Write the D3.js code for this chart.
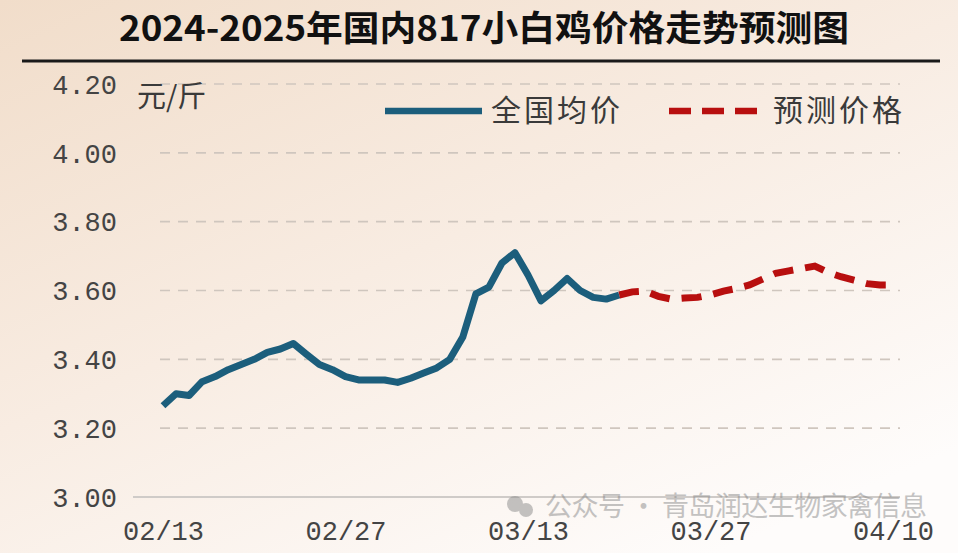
<!DOCTYPE html>
<html><head><meta charset="utf-8">
<script src="https://cdn.jsdelivr.net/npm/d3@7/dist/d3.min.js"></script>
<style>html,body{margin:0;padding:0;overflow:hidden;background:#fbf3ec}</style>
</head><body><svg id="c" width="958" height="553"></svg>
<script>
const dates = ["02/13","02/14","02/15","02/16","02/17","02/18","02/19","02/20","02/21","02/22","02/23","02/24","02/25","02/26","02/27","02/28",
"03/01","03/02","03/03","03/04","03/05","03/06","03/07","03/08","03/09","03/10","03/11","03/12","03/13","03/14","03/15","03/16","03/17","03/18","03/19","03/20",
"03/21","03/22","03/23","03/24","03/25","03/26","03/27","03/28","03/29","03/30","03/31","04/01","04/02","04/03","04/04","04/05","04/06","04/07","04/08","04/09","04/10"];
const actualDates = dates.slice(0, 36);
const actualValues = [3.265,3.300,3.295,3.335,3.350,3.370,3.385,3.400,3.420,3.430,3.446,3.415,3.385,3.370,3.350,3.340,
3.340,3.340,3.333,3.345,3.360,3.375,3.400,3.465,3.590,3.610,3.680,3.710,3.645,3.570,3.600,3.635,3.600,3.580,3.575,3.587];
const forecastDates = dates.slice(35);
const forecastValues = [3.587,3.596,3.598,3.583,3.575,3.578,3.580,3.587,3.598,3.606,3.616,3.633,3.650,3.657,3.664,3.671,3.653,3.640,3.630,3.620,3.616,3.616];
const yTicks = [3.00,3.20,3.40,3.60,3.80,4.00,4.20];
const xTicks = ["02/13","02/27","03/13","03/27","04/10"];
const title = "2024-2025年国内817小白鸡价格走势预测图";
const unit = "元/斤";
const seriesNames = ["全国均价","预测价格"];
const watermark = "公众号 · 青岛润达生物家禽信息";

const svg = d3.select("#c");
const defs = svg.append("defs");
const g = defs.append("linearGradient").attr("id","bg").attr("x1","0").attr("y1","0").attr("x2","0.75").attr("y2","1");
g.append("stop").attr("offset","0").attr("stop-color","#f1ddca");
g.append("stop").attr("offset","0.5").attr("stop-color","#f8ece2");
g.append("stop").attr("offset","1").attr("stop-color","#fefcfb");
svg.append("rect").attr("width",958).attr("height",553).attr("fill","url(#bg)");

const x = d3.scalePoint().domain(dates).range([163, 893]);
const y = d3.scaleLinear().domain([3.0, 4.2]).range([497, 84]);

// title
svg.append("text").attr("x",484).attr("y",41).attr("text-anchor","middle")
  .attr("font-family","'Noto Sans CJK SC'").attr("font-weight","bold").attr("font-size",35)
  .attr("textLength",730).attr("lengthAdjust","spacingAndGlyphs")
  .attr("fill","#111").text(title);
svg.append("line").attr("x1",22).attr("x2",940).attr("y1",61).attr("y2",61).attr("stroke","#1a1a1a").attr("stroke-width",3);

// grid
svg.append("g").selectAll("line").data(yTicks.filter(d=>d>3)).join("line")
  .attr("x1",160).attr("x2",900).attr("y1",d=>y(d)).attr("y2",d=>y(d))
  .attr("stroke","#cfc6be").attr("stroke-width",1.6).attr("stroke-dasharray","10,8");
svg.append("line").attr("x1",133).attr("x2",900).attr("y1",y(3)).attr("y2",y(3))
  .attr("stroke","#cfcbc8").attr("stroke-width",2);

// axes
const yAxis = svg.append("g").attr("transform","translate(160,0)")
  .call(d3.axisLeft(y).tickValues(yTicks).tickFormat(d3.format(".2f")).tickSize(0).tickPadding(43));
yAxis.select(".domain").remove();
yAxis.selectAll("text").attr("font-family","'Liberation Mono'").attr("font-size",27).attr("fill","#444").attr("dy","0.34em");

const xAxis = svg.append("g").attr("transform","translate(0,497)")
  .call(d3.axisBottom(x).tickValues(xTicks).tickSize(0).tickPadding(24));
xAxis.select(".domain").remove();
xAxis.selectAll("text").attr("font-family","'Liberation Mono'").attr("font-size",27).attr("fill","#444").attr("dy","0.71em");

// unit
svg.append("text").attr("x",137).attr("y",107).attr("font-family","'Noto Sans CJK SC'").attr("font-size",29)
  .attr("fill","#3a3a3a").text(unit);

// lines
const line = d3.line().x(d=>x(d[0])).y(d=>y(d[1]));
svg.append("path").datum(actualDates.map((d,i)=>[d,actualValues[i]]))
  .attr("d",line).attr("fill","none").attr("stroke","#1c5e7c").attr("stroke-width",7).attr("stroke-linejoin","round");
svg.append("path").datum(forecastDates.map((d,i)=>[d,forecastValues[i]]))
  .attr("d",line).attr("fill","none").attr("stroke","#b80f0f").attr("stroke-width",7).attr("stroke-dasharray","20,12");

// legend
svg.append("line").attr("x1",385).attr("x2",482).attr("y1",111).attr("y2",111).attr("stroke","#1c5e7c").attr("stroke-width",6.5);
svg.append("text").attr("x",491).attr("y",121).attr("font-family","'Noto Sans CJK SC'").attr("font-size",30)
  .attr("textLength",129).attr("fill","#3a3a3a").text(seriesNames[0]);
svg.append("line").attr("x1",669).attr("x2",758).attr("y1",111).attr("y2",111).attr("stroke","#b80f0f").attr("stroke-width",6.5).attr("stroke-dasharray","22,11");
svg.append("text").attr("x",773).attr("y",121).attr("font-family","'Noto Sans CJK SC'").attr("font-size",30)
  .attr("textLength",129).attr("fill","#3a3a3a").text(seriesNames[1]);

// watermark
const wm = svg.append("g").attr("opacity",0.5);
wm.append("circle").attr("cx",515).attr("cy",504).attr("r",8).attr("fill","#8a8a8a");
wm.append("circle").attr("cx",526).attr("cy",510).attr("r",7).attr("fill","#8a8a8a");
wm.append("text").attr("x",545).attr("y",516).attr("font-family","'Noto Sans CJK SC'").attr("font-size",27)
  .attr("fill","#8a8a8a").attr("textLength",382).text(watermark);
</script></body></html>
